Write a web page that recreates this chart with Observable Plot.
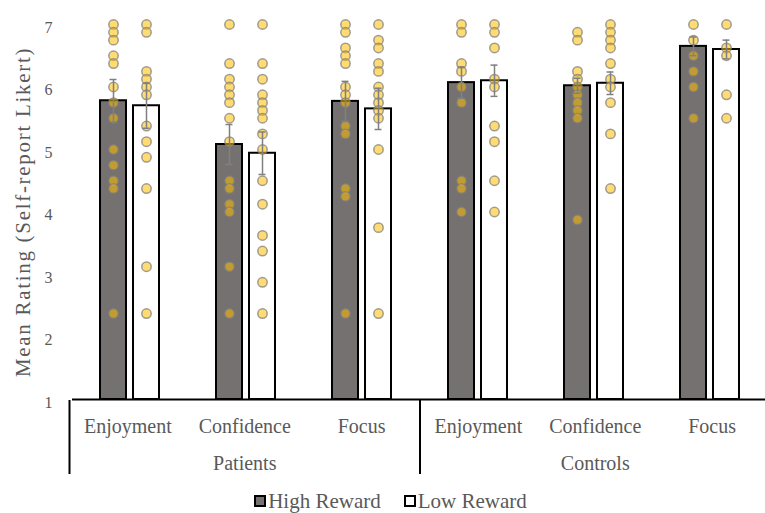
<!DOCTYPE html>
<html>
<head>
<meta charset="utf-8">
<script src="https://cdn.jsdelivr.net/npm/d3@7"></script>
<script src="https://cdn.jsdelivr.net/npm/@observablehq/plot@0.6"></script>
<style>
  html, body { margin: 0; padding: 0; background: #fff; overflow: hidden; }
  body { font-family: "Liberation Serif", "Times New Roman", serif; width: 765px; height: 513px; }
  #chart svg { display: block; max-width: none !important; }
  g[aria-label="y-axis label"] text { font-size: 21px; letter-spacing: 1.7px; }
  .legend { display: flex; justify-content: center; align-items: center; gap: 23px; color: #595959;
            font-size: 21px; line-height: 24px; height: 26px; margin-top: 6px; width: 765px; padding-left: 16px; box-sizing: border-box; }
  .legend span.item { display: flex; align-items: center; gap: 2px; }
  .legend span.sw { display: inline-block; width: 8px; height: 8px; border: 2px solid #000; }
</style>
</head>
<body>
<div id="chart"></div>
<script>
// ---- data ----
const groups = ["Patients", "Controls"];
const categories = ["Enjoyment", "Confidence", "Focus"];
const series = ["High Reward", "Low Reward"];
const seriesColors = ["#767171", "#ffffff"];
const yTicks = [1, 2, 3, 4, 5, 6, 7];
const yLabel = "Mean Rating (Self-report Likert)";

// means and standard errors, order: Patients (Enj, Conf, Focus), Controls (Enj, Conf, Focus)
const highMeans = [5.78, 5.08, 5.77, 6.07, 6.02, 6.65];
const lowMeans  = [5.70, 4.94, 5.65, 6.10, 6.06, 6.60];
const highSE    = [0.34, 0.32, 0.32, 0.25, 0.12, 0.15];
const lowSE     = [0.36, 0.34, 0.33, 0.25, 0.18, 0.15];

// individual participant ratings
const patEnjHigh  = [7, 6.875, 6.75, 6.5, 6.375, 6, 5.75, 5.5, 5, 4.75, 4.5, 4.375, 2.375];
const patEnjLow   = [7, 6.875, 6.25, 6.125, 6, 5.875, 5.375, 5.125, 4.875, 4.375, 3.125, 2.375];
const patConfHigh = [7, 6.375, 6.125, 6, 5.875, 5.75, 5.5, 5.125, 4.5, 4.375, 4.125, 4, 3.125, 2.375];
const patConfLow  = [7, 6.375, 6.125, 5.875, 5.75, 5.625, 5.5, 5.25, 5, 4.5, 4.125, 3.625, 3.375, 2.875, 2.375];
const patFocHigh  = [7, 6.875, 6.625, 6.5, 6.375, 6, 5.875, 5.75, 5.375, 5.25, 4.375, 4.25, 2.375];
const patFocLow   = [7, 6.75, 6.625, 6.375, 6.25, 6, 5.875, 5.75, 5.625, 5.5, 5, 3.75, 2.375];
const conEnjHigh  = [7, 6.875, 6.375, 6.25, 6, 5.75, 4.5, 4.375, 4];
const conEnjLow   = [7, 6.875, 6.625, 6.125, 6, 5.375, 5.125, 4.5, 4];
const conConfHigh = [6.875, 6.75, 6.25, 6.125, 6, 5.875, 5.75, 5.625, 5.5, 3.875];
const conConfLow  = [7, 6.875, 6.75, 6.625, 6.375, 6.125, 6, 5.75, 5.25, 4.375];
const conFocHigh  = [7, 6.75, 6.5, 6.25, 6, 5.5];
const conFocLow   = [7, 6.625, 6.5, 5.875, 5.5];

const highDots = [patEnjHigh, patConfHigh, patFocHigh, conEnjHigh, conConfHigh, conFocHigh];
const lowDots  = [patEnjLow, patConfLow, patFocLow, conEnjLow, conConfLow, conFocLow];

// ---- tables for Plot ----
const keys = groups.flatMap(g => categories.map(c => `${g}|${c}`));
const bars = keys.flatMap((k, i) => [
  {key: k, series: series[0], mean: highMeans[i], se: highSE[i]},
  {key: k, series: series[1], mean: lowMeans[i], se: lowSE[i]}
]);
const dots = keys.flatMap((k, i) => [
  ...highDots[i].map(v => ({key: k, series: series[0], value: v})),
  ...lowDots[i].map(v => ({key: k, series: series[1], value: v}))
]);
const catRows = keys.map((k, i) => ({pos: i + 0.5, label: k.split("|")[1]}));
const groupRows = groups.map((g, gi) => ({pos: gi * categories.length + categories.length / 2, label: g}));
const bounds = groups.map((g, gi) => gi * categories.length);

const common = {width: 770, marginLeft: 69, marginRight: 0};
const errStyle = {stroke: "#808080", strokeWidth: 1.5};
const font = "'Liberation Serif', 'Times New Roman', serif";

const main = Plot.plot({
  ...common,
  height: 400, marginTop: 24, marginBottom: 1,
  style: {fontFamily: font, fontSize: "16px", color: "#595959", background: "white", overflow: "visible"},
  fx: {domain: keys, padding: 0, axis: null},
  x: {domain: series, paddingInner: 0.2, paddingOuter: 0.833, axis: null},
  y: {domain: [1, 7], axis: null},
  color: {domain: series, range: seriesColors},
  marks: [
    Plot.barY(bars, {fx: "key", x: "series", y1: 1, y2: "mean", fill: "series", stroke: "black", strokeWidth: 2}),
    Plot.dot(dots, {fx: "key", x: "series", y: "value", r: 4.7, fill: "#FFC000", fillOpacity: 0.55,
                    stroke: "#7f7f7f", strokeOpacity: 0.75, strokeWidth: 1.5}),
    Plot.ruleX(bars, {fx: "key", x: "series", y1: d => d.mean - d.se, y2: d => d.mean + d.se, ...errStyle}),
    Plot.tickY(bars, {fx: "key", x: "series", y: d => d.mean + d.se, insetLeft: 9.5, insetRight: 9.5, ...errStyle}),
    Plot.tickY(bars, {fx: "key", x: "series", y: d => d.mean - d.se, insetLeft: 9.5, insetRight: 9.5, ...errStyle}),
    Plot.ruleY([1], {stroke: "black", strokeWidth: 2}),
    Plot.axisY({ticks: yTicks, tickFormat: "d", tickSize: 0, tickPadding: 20, line: true, stroke: "black", strokeWidth: 2,
                fill: "#595959", fontSize: 16, dy: 3, label: yLabel, labelAnchor: "center", labelArrow: false, labelOffset: 57})
  ]
});

const lower = Plot.plot({
  ...common,
  height: 82, marginTop: 0, marginBottom: 8,
  style: {fontFamily: font, fontSize: "20px", color: "#595959", background: "transparent", overflow: "hidden"},
  x: {domain: [0, keys.length], axis: null},
  marks: [
    Plot.ruleX(bounds, {stroke: "black", strokeWidth: 2}),
    Plot.text(catRows, {x: "pos", text: "label", frameAnchor: "top", dy: 18, fontSize: 20, fill: "#595959"}),
    Plot.text(groupRows, {x: "pos", text: "label", frameAnchor: "top", dy: 55, fontSize: 20, fill: "#595959"})
  ]
});

const chart = document.getElementById("chart");
chart.appendChild(main);
chart.appendChild(lower);

const legend = document.createElement("div");
legend.className = "legend";
series.forEach((s, i) => {
  const item = document.createElement("span");
  item.className = "item";
  const sw = document.createElement("span");
  sw.className = "sw";
  sw.style.background = seriesColors[i];
  item.appendChild(sw);
  item.appendChild(document.createTextNode(s));
  legend.appendChild(item);
});
chart.appendChild(legend);
</script>
</body>
</html>
